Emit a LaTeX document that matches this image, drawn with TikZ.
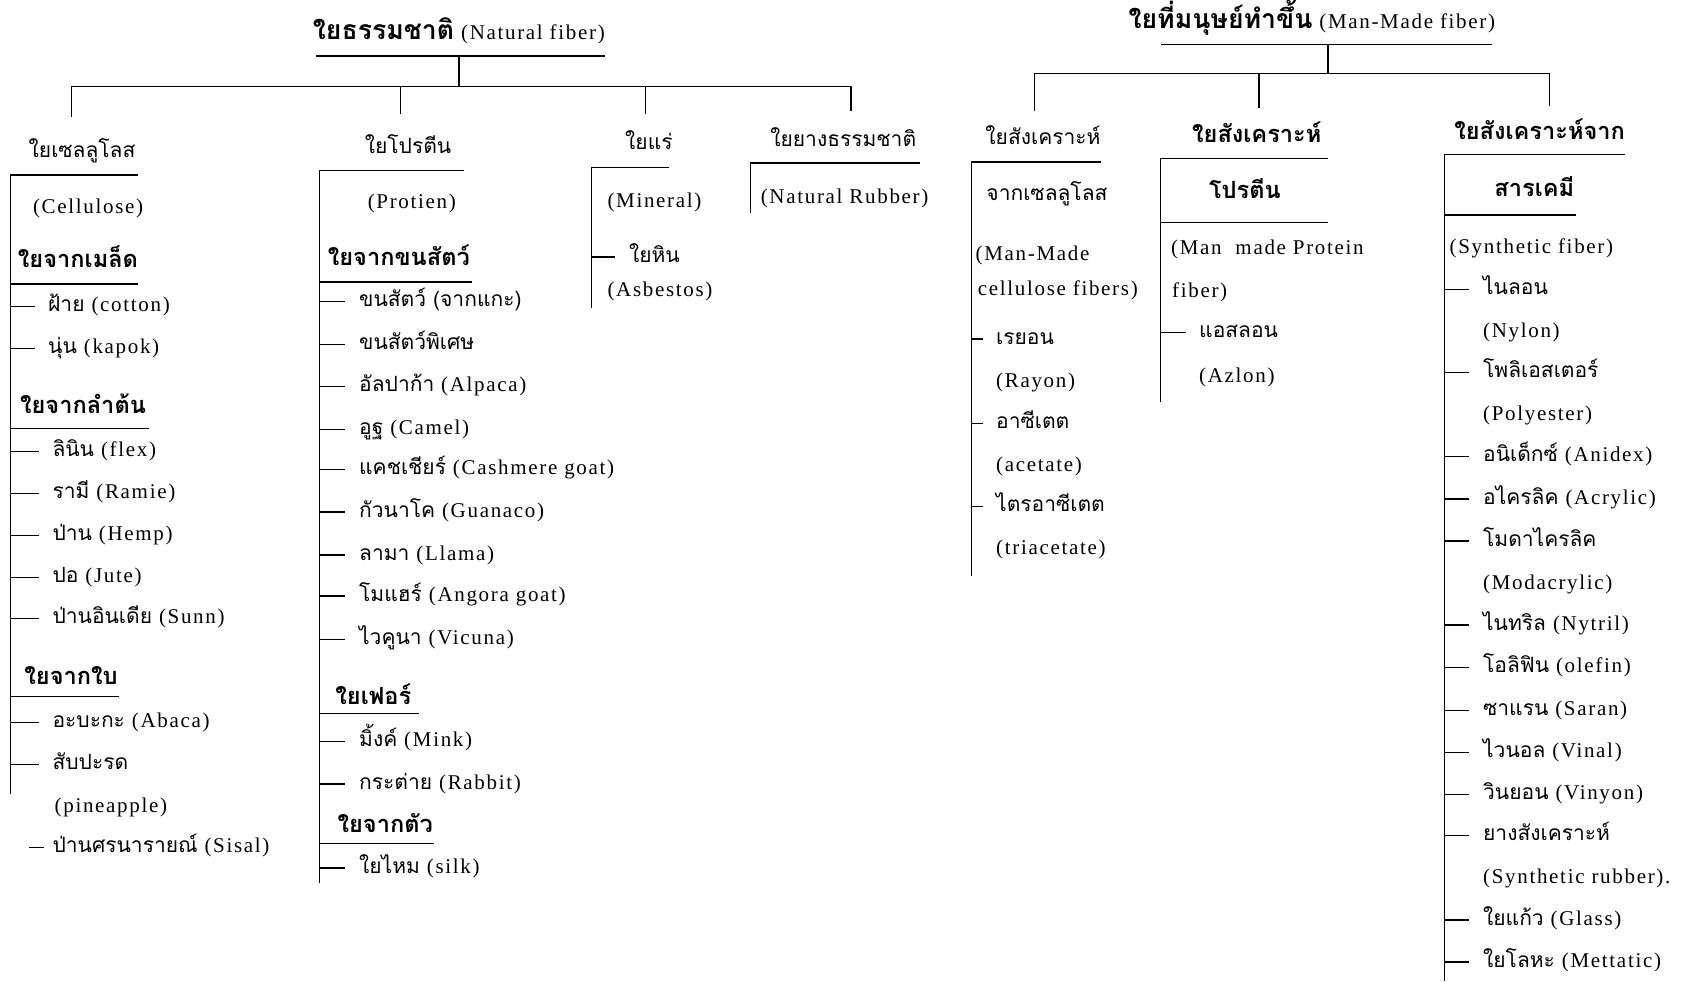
\documentclass[tikz,border=0pt]{standalone}
\usepackage{fontspec}
\setmainfont{Liberation Serif}[LetterSpace=8]
\newfontfamily\thf[Script=Thai]{Loma}
\newcommand\T[1]{{\thf #1}}
\newcommand\TB[1]{{\thf\bfseries #1}}
\newcommand\TT[1]{{\thf\bfseries\fontsize{13.3}{15}\selectfont #1}}
\begin{document}
\begin{tikzpicture}[x=0.53985pt,y=-0.53985pt,line width=0.7pt,
  every node/.style={font=\fontsize{10.5}{12}\selectfont},
  item/.style={anchor=west,inner sep=0pt,text height=7.5pt,text depth=2.3pt},
  grp/.style={item,font=\fontsize{11.8}{13}\selectfont},
  hdr/.style={anchor=center,inner sep=0pt,text height=7.5pt,text depth=2.3pt},
  bighdr/.style={hdr,font=\fontsize{11.8}{13}\selectfont},
  ttl/.style={anchor=center,inner sep=0pt,text height=9pt,text depth=2.5pt,font=\fontsize{10.5}{13}\selectfont},
  tick/.style={shorten >=6.5pt}]
\useasboundingbox (0,0) rectangle (1568,909);

% ================= Natural fiber =================
\node[ttl] (nat) at (425,31) {\TT{ใยธรรมชาติ} (Natural fiber)};
\coordinate (natL) at (293,52); \coordinate (natR) at (560,52);
\draw (natL) -- (natR);
\coordinate (natS) at (425,52); \coordinate (natB) at (425,80);
\draw (natS) -- (natB);
\coordinate (nb1) at (66,80); \coordinate (nd1) at (66,108);
\coordinate (nb2) at (371,80); \coordinate (nd2) at (371,106);
\coordinate (nb3) at (598,80); \coordinate (nd3) at (598,106);
\coordinate (nb4) at (788,80); \coordinate (nd4) at (788,103);
\draw (nd1) -- (nb1) -- (nb4) -- (nd4);
\draw (nb2) -- (nd2);
\draw (nb3) -- (nd3);

% ---- Column 1: Cellulose
\node[hdr] (h1) at (76,141) {\T{ใยเซลลูโลส}};
\coordinate (v1) at (10,162); \coordinate (v1r) at (128,162); \coordinate (v1e) at (10,735);
\draw (v1r) -- (v1) -- (v1e);
\node[item] (cel) at (30,193) {(Cellulose)};
\node[grp] (g11) at (16,243) {\TB{ใยจากเมล็ด}};
\coordinate (u11a) at (10,263); \coordinate (u11b) at (128,263); \draw (u11a) -- (u11b);
\node[item] (c1a) at (44,284) {\T{ฝ้าย} (cotton)};
\node[item] (c1b) at (44,323) {\T{นุ่น} (kapok)};
\node[grp] (g12) at (18,378) {\TB{ใยจากลำต้น}};
\coordinate (u12a) at (10,397); \coordinate (u12b) at (138,397); \draw (u12a) -- (u12b);
\node[item] (c1c) at (48,418) {\T{ลินิน} (flex)};
\node[item] (c1d) at (48,457) {\T{รามี} (Ramie)};
\node[item] (c1e) at (48,496) {\T{ป่าน} (Hemp)};
\node[item] (c1f) at (48,535) {\T{ปอ} (Jute)};
\node[item] (c1g) at (48,573) {\T{ป่านอินเดีย} (Sunn)};
\node[grp] (g13) at (22,629) {\TB{ใยจากใบ}};
\coordinate (u13a) at (10,645); \coordinate (u13b) at (110,645); \draw (u13a) -- (u13b);
\node[item] (c1h) at (48,669) {\T{อะบะกะ} (Abaca)};
\node[item] (c1i) at (48,708) {\T{สับปะรด}};
\node[item] (c1j) at (50,748) {(pineapple)};
\node[item] (c1k) at (48,785) {\T{ป่านศรนารายณ์} (Sisal)};
\foreach \n in {a,b,c,d,e,f,g,h,i}
  \draw[tick] (v1 |- c1\n.west) -- (c1\n.west);
\coordinate (k1) at (27,785);
\draw[shorten >=4pt] (k1) -- (c1k.west);

% ---- Column 2: Protein
\node[hdr] (h2) at (378,137) {\T{ใยโปรตีน}};
\coordinate (v2) at (296,158); \coordinate (v2r) at (430,158); \coordinate (v2e) at (296,818);
\draw (v2r) -- (v2) -- (v2e);
\node[item] (pro) at (340,188) {(Protien)};
\node[grp] (g21) at (303,241) {\TB{ใยจากขนสัตว์}};
\coordinate (u21a) at (296,261); \coordinate (u21b) at (437,261); \draw (u21a) -- (u21b);
\node[item] (c2a) at (332,279) {\T{ขนสัตว์ (จากแกะ)}};
\node[item] (c2b) at (332,319) {\T{ขนสัตว์พิเศษ}};
\node[item] (c2c) at (332,358) {\T{อัลปาก้า} (Alpaca)};
\node[item] (c2d) at (332,398) {\T{อูฐ} (Camel)};
\node[item] (c2e) at (332,435) {\T{แคชเชียร์} (Cashmere goat)};
\node[item] (c2f) at (332,474) {\T{กัวนาโค} (Guanaco)};
\node[item] (c2g) at (332,514) {\T{ลามา} (Llama)};
\node[item] (c2h) at (332,552) {\T{โมแฮร์} (Angora goat)};
\node[item] (c2i) at (332,592) {\T{ไวคูนา} (Vicuna)};
\node[grp] (g22) at (310,648) {\TB{ใยเฟอร์}};
\coordinate (u22a) at (296,661); \coordinate (u22b) at (388,661); \draw (u22a) -- (u22b);
\node[item] (c2j) at (332,687) {\T{มิ้งค์} (Mink)};
\node[item] (c2k) at (332,726) {\T{กระต่าย} (Rabbit)};
\node[grp] (g23) at (312,766) {\TB{ใยจากตัว}};
\coordinate (u23a) at (296,781); \coordinate (u23b) at (402,781); \draw (u23a) -- (u23b);
\node[item] (c2l) at (332,804) {\T{ใยไหม} (silk)};
\foreach \n in {a,b,c,d,e,f,g,h,i,j,k,l}
  \draw[tick] (v2 |- c2\n.west) -- (c2\n.west);

% ---- Column 3: Mineral
\node[hdr] (h3) at (601,134) {\T{ใยแร่}};
\coordinate (v3) at (548,155); \coordinate (v3r) at (620,155); \coordinate (v3e) at (548,285);
\draw (v3r) -- (v3) -- (v3e);
\node[item] (min) at (562,187) {(Mineral)};
\node[item] (c3a) at (582,238) {\T{ใยหิน}};
\node[item] (asb) at (562,270) {(Asbestos)};
\draw[tick] (v3 |- c3a.west) -- (c3a.west);

% ---- Column 4: Natural Rubber
\node[hdr] (h4) at (781,131) {\T{ใยยางธรรมชาติ}};
\coordinate (v4) at (695,151); \coordinate (v4r) at (852,151); \coordinate (v4e) at (695,197);
\draw (v4r) -- (v4) -- (v4e);
\node[item] (rub) at (704,184) {(Natural Rubber)};

% ================= Man-Made fiber =================
\node[ttl] (man) at (1215,20) {\TT{ใยที่มนุษย์ทำขึ้น} (Man-Made fiber)};
\coordinate (manL) at (1075,41); \coordinate (manR) at (1382,41);
\draw (manL) -- (manR);
\coordinate (manS) at (1230,41); \coordinate (manB) at (1230,68);
\draw (manS) -- (manB);
\coordinate (mb1) at (958,68); \coordinate (md1) at (958,103);
\coordinate (mb2) at (1166,68); \coordinate (md2) at (1166,100);
\coordinate (mb3) at (1435,68); \coordinate (md3) at (1435,98);
\draw (md1) -- (mb1) -- (mb3) -- (md3);
\draw (mb2) -- (md2);

% ---- Column 5: Man-made cellulose
\node[hdr] (h5) at (966,129) {\T{ใยสังเคราะห์}};
\coordinate (v5) at (900,150); \coordinate (v5r) at (1020,150); \coordinate (v5e) at (900,533);
\draw (v5r) -- (v5) -- (v5e);
\node[item] (h5b) at (913,181) {\T{จากเซลลูโลส}};
\node[item] (m5a) at (903,236) {(Man-Made};
\node[item] (m5b) at (905,269) {cellulose fibers)};
\node[item] (c5a) at (922,314) {\T{เรยอน}};
\node[item] (c5b) at (922,354) {(Rayon)};
\node[item] (c5c) at (922,392) {\T{อาซีเตต}};
\node[item] (c5d) at (922,432) {(acetate)};
\node[item] (c5e) at (922,469) {\T{ไตรอาซีเตต}};
\node[item] (c5f) at (922,509) {(triacetate)};
\foreach \n in {a,c,e}
  \draw[tick] (v5 |- c5\n.west) -- (c5\n.west);

% ---- Column 6: Man-made protein
\node[bighdr] (h6) at (1164,127) {\TB{ใยสังเคราะห์}};
\coordinate (v6) at (1075,147); \coordinate (v6r) at (1230,147); \coordinate (v6e) at (1075,372);
\draw (v6r) -- (v6) -- (v6e);
\node[bighdr] (h6b) at (1153,179) {\TB{โปรตีน}};
\coordinate (u6a) at (1075,206); \coordinate (u6b) at (1230,206); \draw (u6a) -- (u6b);
\node[item] (m6a) at (1084,231) {(Man\ \ made Protein};
\node[item] (m6b) at (1085,271) {fiber)};
\node[item] (c6a) at (1110,308) {\T{แอสลอน}};
\node[item] (c6b) at (1110,349) {(Azlon)};
\draw[tick] (v6 |- c6a.west) -- (c6a.west);

% ---- Column 7: Synthetic
\node[bighdr] (h7) at (1426,124) {\TB{ใยสังเคราะห์จาก}};
\coordinate (v7) at (1338,143); \coordinate (v7r) at (1505,143); \coordinate (v7e) at (1338,909);
\draw (v7r) -- (v7) -- (v7e);
\node[bighdr] (h7b) at (1421,177) {\TB{สารเคมี}};
\coordinate (u7a) at (1338,199); \coordinate (u7b) at (1460,199); \draw (u7a) -- (u7b);
\node[item] (syn) at (1342,230) {(Synthetic fiber)};
\node[item] (c7a) at (1373,268) {\T{ไนลอน}};
\node[item] (c7b) at (1373,308) {(Nylon)};
\node[item] (c7c) at (1373,345) {\T{โพลิเอสเตอร์}};
\node[item] (c7d) at (1373,385) {(Polyester)};
\node[item] (c7e) at (1373,423) {\T{อนิเด็กซ์} (Anidex)};
\node[item] (c7f) at (1373,462) {\T{อไครลิค} (Acrylic)};
\node[item] (c7g) at (1373,501) {\T{โมดาไครลิค}};
\node[item] (c7h) at (1373,541) {(Modacrylic)};
\node[item] (c7i) at (1373,579) {\T{ไนทริล} (Nytril)};
\node[item] (c7j) at (1373,618) {\T{โอลิฟิน} (olefin)};
\node[item] (c7k) at (1373,658) {\T{ซาแรน} (Saran)};
\node[item] (c7l) at (1373,697) {\T{ไวนอล} (Vinal)};
\node[item] (c7m) at (1373,736) {\T{วินยอน} (Vinyon)};
\node[item] (c7n) at (1373,774) {\T{ยางสังเคราะห์}};
\node[item] (c7o) at (1373,813) {(Synthetic rubber).};
\node[item] (c7p) at (1373,852) {\T{ใยแก้ว} (Glass)};
\node[item] (c7q) at (1373,891) {\T{ใยโลหะ} (Mettatic)};
\foreach \n in {a,c,e,f,g,i,j,k,l,m,n,p,q}
  \draw[tick] (v7 |- c7\n.west) -- (c7\n.west);
\end{tikzpicture}
\end{document}
